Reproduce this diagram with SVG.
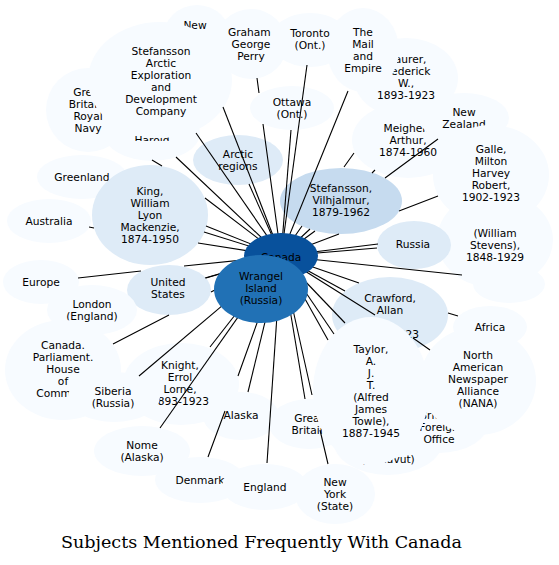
<svg xmlns="http://www.w3.org/2000/svg" width="559" height="565" viewBox="0 0 559 565">
<defs>
<style>
text{font-family:"DejaVu Sans","Liberation Sans",sans-serif;font-size:10.67px;fill:#000;text-anchor:middle}
.o{fill:#f7fbff}
.m{fill:#deebf7}
.s{fill:#c6dbef}
.c{fill:#08519c}
.w{fill:#2171b5}
.e{fill:none;stroke:#000;stroke-width:1.1}
.t{font-family:"DejaVu Serif","Liberation Serif",serif;font-size:16px}
</style>
<clipPath id="hc"><rect x="100" y="120" width="110" height="21"/></clipPath>
</defs>
<rect width="559" height="565" fill="#fff"/>
<g id="nodes">
<g id="n_newyork"><ellipse class="o" cx="197" cy="38" rx="34" ry="33"/><text x="195" y="29">New</text></g>
<g id="n_graham"><ellipse class="o" cx="251" cy="44" rx="36" ry="35"/><text x="251" y="35.5">Graham,</text><text x="251" y="47.5">George</text><text x="251" y="59.5">Perry</text></g>
<g id="n_maurer"><ellipse class="o" cx="406" cy="78" rx="52" ry="40"/><text x="406" y="62.5">Maurer,</text><text x="406" y="74.5">Frederick</text><text x="406" y="86.5">W.,</text><text x="406" y="98.5">1893-1923</text></g>
<g id="n_mail"><ellipse class="o" cx="363" cy="50" rx="36" ry="42"/><text x="363" y="36">The</text><text x="363" y="48">Mail</text><text x="363" y="60">and</text><text x="363" y="72">Empire</text></g>
<g id="n_toronto"><ellipse class="o" cx="310" cy="40" rx="40" ry="27"/><text x="310" y="37">Toronto</text><text x="310" y="49">(Ont.)</text></g>
<g id="n_ottawa"><ellipse class="o" cx="292" cy="108" rx="42" ry="22"/><text x="292" y="106">Ottawa</text><text x="292" y="118">(Ont.)</text></g>
<g id="n_gbrn"><ellipse class="o" cx="88" cy="110" rx="42" ry="42"/><text x="88" y="96">Great</text><text x="88" y="108">Britain.</text><text x="88" y="120">Royal</text><text x="88" y="132">Navy</text></g>
<g id="n_harold"><ellipse class="o" cx="152" cy="133" rx="48" ry="28"/><text x="152" y="144" clip-path="url(#hc)">Harold</text></g>
<g id="n_saedc"><ellipse class="o" cx="160" cy="80" rx="72" ry="58"/><text x="161" y="55">Stefansson</text><text x="161" y="67">Arctic</text><text x="161" y="79">Exploration</text><text x="161" y="91">and</text><text x="161" y="103">Development</text><text x="161" y="115">Company</text></g>
<g id="n_arctic"><ellipse class="m" cx="238" cy="160" rx="45" ry="25"/><text x="238" y="158">Arctic</text><text x="238" y="170">regions</text></g>
<g id="n_greenland"><ellipse class="o" cx="82" cy="177" rx="45" ry="22"/><text x="82" y="181">Greenland</text></g>
<g id="n_meighen"><ellipse class="o" cx="408" cy="140" rx="56" ry="38"/><text x="408" y="132">Meighen,</text><text x="408" y="144">Arthur,</text><text x="408" y="156">1874-1960</text></g>
<g id="n_newzealand"><ellipse class="o" cx="464" cy="118" rx="45" ry="25"/><text x="464" y="116">New</text><text x="464" y="128">Zealand</text></g>
<g id="n_dot"><ellipse class="o" cx="509" cy="284" rx="36" ry="19"/><text x="517" y="283">.</text></g>
<g id="n_william"><ellipse class="o" cx="495" cy="240" rx="58" ry="48"/><text x="495" y="236.5">(William</text><text x="495" y="248.5">Stevens),</text><text x="495" y="260.5">1848-1929</text></g>
<g id="n_galle"><ellipse class="o" cx="491" cy="175" rx="58" ry="50"/><text x="491" y="153">Galle,</text><text x="491" y="165">Milton</text><text x="491" y="177">Harvey</text><text x="491" y="189">Robert,</text><text x="491" y="201">1902-1923</text></g>
<g id="n_king"><ellipse class="m" cx="150" cy="215" rx="58" ry="50"/><text x="150" y="195">King,</text><text x="150" y="207">William</text><text x="150" y="219">Lyon</text><text x="150" y="231">Mackenzie,</text><text x="150" y="243">1874-1950</text></g>
<g id="n_australia"><ellipse class="o" cx="49" cy="221" rx="42" ry="22"/><text x="49" y="225">Australia</text></g>
<g id="n_stefansson"><ellipse class="s" cx="341" cy="201" rx="61" ry="33"/><text x="341" y="192">Stefansson,</text><text x="341" y="204">Vilhjalmur,</text><text x="341" y="216">1879-1962</text></g>
<g id="n_russia"><ellipse class="m" cx="414" cy="245" rx="37" ry="24"/><text x="413" y="248">Russia</text></g>
<g id="n_europe"><ellipse class="o" cx="41" cy="282" rx="38" ry="22"/><text x="41" y="286">Europe</text></g>
<g id="n_us"><ellipse class="m" cx="169" cy="290" rx="42" ry="25"/><text x="168" y="286">United</text><text x="168" y="298">States</text></g>
<g id="n_london"><ellipse class="o" cx="92" cy="310" rx="45" ry="25"/><text x="92" y="308">London</text><text x="92" y="320">(England)</text></g>
<g id="n_canparl"><ellipse class="o" cx="63" cy="370" rx="58" ry="50"/><text x="63" y="349">Canada.</text><text x="63" y="361">Parliament.</text><text x="63" y="373">House</text><text x="63" y="385">of</text><text x="63" y="397">Commons</text></g>
<g id="n_knight"><ellipse class="o" cx="181" cy="384" rx="58" ry="41"/><text x="180" y="369">Knight,</text><text x="180" y="381">Errol</text><text x="180" y="393">Lorne,</text><text x="180" y="405">1893-1923</text></g>
<g id="n_siberia"><ellipse class="o" cx="114" cy="397" rx="46" ry="25"/><text x="113" y="395">Siberia</text><text x="113" y="407">(Russia)</text></g>
<g id="n_nome"><ellipse class="o" cx="142" cy="451" rx="48" ry="25"/><text x="142" y="449">Nome</text><text x="142" y="461">(Alaska)</text></g>
<g id="n_alaska"><ellipse class="o" cx="241" cy="416" rx="38" ry="24"/><text x="241" y="419">Alaska</text></g>
<g id="n_denmark"><ellipse class="o" cx="200" cy="480" rx="45" ry="23"/><text x="200" y="484">Denmark</text></g>
<g id="n_england"><ellipse class="o" cx="265" cy="487" rx="43" ry="23"/><text x="265" y="491">England</text></g>
<g id="n_crawford"><ellipse class="m" cx="390" cy="315" rx="58" ry="38"/><text x="390" y="302">Crawford,</text><text x="390" y="314">Allan</text><text x="390" y="338">1901-1923</text></g>
<g id="n_greatbritain"><ellipse class="o" cx="309" cy="424" rx="40" ry="25"/><text x="309" y="422">Great</text><text x="309" y="434">Britain</text></g>
<g id="n_nunavut"><ellipse class="o" cx="388" cy="440" rx="55" ry="35"/><text x="388" y="463">(Nunavut)</text></g>
<g id="n_foreign"><ellipse class="o" cx="439" cy="421" rx="50" ry="32"/><text x="439" y="419">Britain.</text><text x="439" y="431">Foreign</text><text x="439" y="443">Office</text></g>
<g id="n_taylor"><ellipse class="o" cx="371" cy="391" rx="58" ry="74"/><text x="371" y="353">Taylor,</text><text x="371" y="365">A.</text><text x="371" y="377">J.</text><text x="371" y="389">T.</text><text x="371" y="401">(Alfred</text><text x="371" y="413">James</text><text x="371" y="425">Towle),</text><text x="371" y="437">1887-1945</text></g>
<g id="n_nana"><ellipse class="o" cx="478" cy="381" rx="58" ry="54"/><text x="478" y="359">North</text><text x="478" y="371">American</text><text x="478" y="383">Newspaper</text><text x="478" y="395">Alliance</text><text x="478" y="407">(NANA)</text></g>
<g id="n_africa"><ellipse class="o" cx="490" cy="327" rx="37" ry="21"/><text x="490" y="331">Africa</text></g>
<g id="n_nystate"><ellipse class="o" cx="335" cy="494" rx="40" ry="30"/><text x="335" y="486">New</text><text x="335" y="498">York</text><text x="335" y="510">(State)</text></g>
</g>
<g id="connectors">
<path class="e" d="M281,256L223,107"/>
<path class="e" d="M281,256L263,124M259,93L257,78"/>
<path class="e" d="M281,256L307,65"/>
<path class="e" d="M281,256L348,91"/>
<path class="e" d="M281,256L302,226M344,167L354,153"/>
<path class="e" d="M281,256L291,130"/>
<path class="e" d="M281,256L196,133"/>
<path class="e" d="M152,160L162,166M205,198L281,256"/>
<path class="e" d="M176,157L281,256"/>
<path class="e" d="M249,184L281,256"/>
<path class="e" d="M206,226L281,256"/>
<path class="e" d="M204,232L281,256"/>
<path class="e" d="M89,227L94,228M198,243L281,256"/>
<path class="e" d="M78,278L141,271M184,266L281,256"/>
<path class="e" d="M206,278L281,256"/>
<path class="e" d="M205,278L281,256"/>
<path class="e" d="M113,344L169,315M211,292L281,256"/>
<path class="e" d="M139,376L281,256"/>
<path class="e" d="M210,347L281,256"/>
<path class="e" d="M160,428L281,256"/>
<path class="e" d="M208,457L225,411M238,376L281,256"/>
<path class="e" d="M248,392L281,256"/>
<path class="e" d="M267,463L281,256"/>
<path class="e" d="M305,399L281,256"/>
<path class="e" d="M281,256L312,395M320,430L328,464"/>
<path class="e" d="M281,256L334,334"/>
<path class="e" d="M281,256L345,323"/>
<path class="e" d="M281,256L328,340"/>
<path class="e" d="M281,256L345,291"/>
<path class="e" d="M281,256L359,283M448,313L458,316"/>
<path class="e" d="M281,256L375,315M413,338L430,350"/>
<path class="e" d="M281,256L377,248"/>
<path class="e" d="M281,256L378,244"/>
<path class="e" d="M281,256L462,275"/>
<path class="e" d="M281,256L339,234M399,211L438,196"/>
<path class="e" d="M281,256L315,231M385,178L438,139"/>
<path class="e" d="M281,256L310,229M372,173L375,170"/>
</g>
<g id="n_canada"><ellipse class="c" cx="281" cy="256" rx="37" ry="23"/><text x="281" y="261">Canada</text></g>
<g id="n_wrangel"><ellipse class="w" cx="261" cy="289" rx="47" ry="34"/><text x="261" y="279.5">Wrangel</text><text x="261" y="291.5">Island</text><text x="261" y="303.5">(Russia)</text></g>
<text class="t" x="261.5" y="548" textLength="401" lengthAdjust="spacingAndGlyphs">Subjects Mentioned Frequently With Canada</text>
</svg>
